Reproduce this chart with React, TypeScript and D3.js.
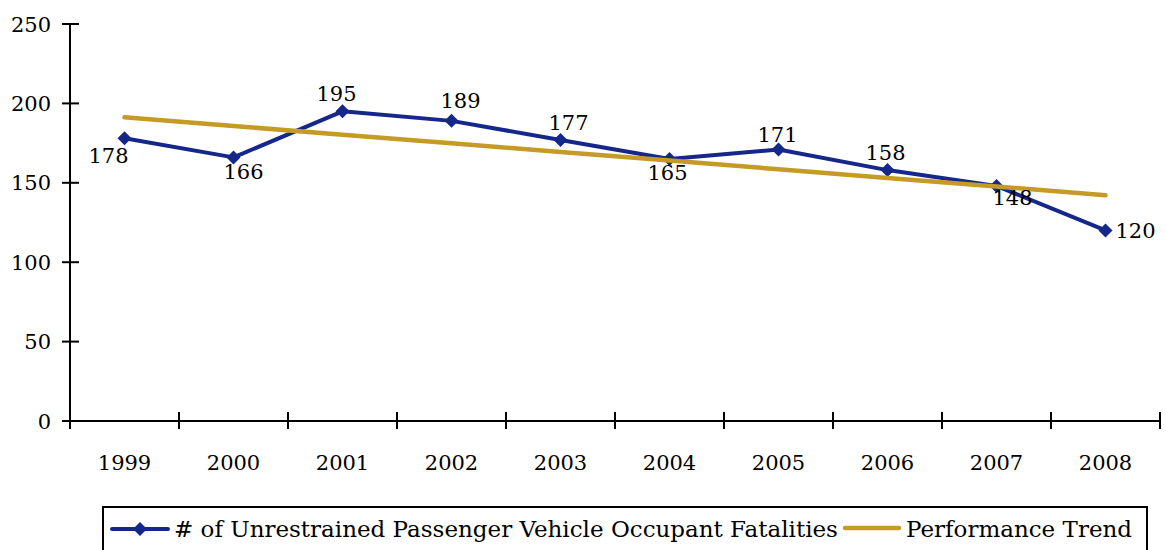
import * as d3 from 'd3';
import React from 'react';

const years = ['1999', '2000', '2001', '2002', '2003', '2004', '2005', '2006', '2007', '2008'];
const fatalities = [178, 166, 195, 189, 177, 165, 171, 158, 148, 120];
const yTicks = [0, 50, 100, 150, 200, 250];
// where each value label sits relative to its marker (dx, dy in px)
const labelOffsets: [number, number][] = [
  [-16, 17], [10, 14], [-6, -18], [9, -20], [8, -17], [-2, 13], [-1, -15], [-2, -18], [16, 11], [30, 0],
];
const seriesName = '# of Unrestrained Passenger Vehicle Occupant Fatalities';
const trendName = 'Performance Trend';

const FONT = "'DejaVu Serif', serif";
const FS = 21;
const LEGEND_FS = 23;
const BLUE = '#16278a';
const GOLD = '#c59b26';

export default function App() {
  const width = 1166;
  const height = 550;
  const left = 70, right = 1160, top = 24, bottom = 421;

  const x = d3.scaleBand<string>().domain(years).range([left, right]);
  const y = d3.scaleLinear().domain([0, 250]).range([bottom, top]);
  const cx = (i: number) => (x(years[i]) ?? 0) + x.bandwidth() / 2;

  // least-squares trend, like the spreadsheet's linear trendline
  const idx = fatalities.map((_, i) => i);
  const mx = d3.mean(idx)!, my = d3.mean(fatalities)!;
  const slope = d3.sum(idx, i => (i - mx) * (fatalities[i] - my)) / d3.sum(idx, i => (i - mx) ** 2);
  const trend = idx.map(i => my + slope * (i - mx));

  const line = d3.line<number>().x((_, i) => cx(i)).y(d => y(d));
  const diamond = (px: number, py: number, r = 7) =>
    `M${px},${py - r}L${px + r},${py}L${px},${py + r}L${px - r},${py}Z`;

  const tickXs = d3.range(years.length + 1).map(i => left + i * x.step());

  return (
    <svg width={width} height={height} style={{ position: 'absolute', left: 0, top: 0, background: '#fff', fontFamily: FONT }}>
      {/* y axis */}
      <line x1={left} x2={left} y1={top} y2={bottom + 8} stroke="#000" strokeWidth={2} />
      {yTicks.map(t => (
        <g key={t}>
          <line x1={left - 8} x2={left + 9} y1={y(t)} y2={y(t)} stroke="#000" strokeWidth={2} />
          <text x={left - 19} y={y(t)} dy="0.36em" textAnchor="end" fontSize={FS}>{t}</text>
        </g>
      ))}
      {/* x axis */}
      <line x1={left} x2={right} y1={bottom} y2={bottom} stroke="#000" strokeWidth={2} />
      {tickXs.map((tx, i) => (
        <line key={i} x1={tx} x2={tx} y1={bottom - 9} y2={bottom + 8} stroke="#000" strokeWidth={2} />
      ))}
      {years.map((yr, i) => (
        <text key={yr} x={cx(i)} y={462} dy="0.36em" textAnchor="middle" fontSize={FS}>{yr}</text>
      ))}

      {/* series */}
      <path d={line(fatalities) ?? ''} fill="none" stroke={BLUE} strokeWidth={4} strokeLinejoin="round" />
      {fatalities.map((v, i) => (
        <path key={i} d={diamond(cx(i), y(v))} fill={BLUE} />
      ))}
      <path d={line(trend) ?? ''} fill="none" stroke={GOLD} strokeWidth={4.5} strokeLinecap="round" />
      {fatalities.map((v, i) => (
        <text key={'l' + i} x={cx(i) + labelOffsets[i][0]} y={y(v) + labelOffsets[i][1]} dy="0.36em"
          textAnchor="middle" fontSize={FS}>{v}</text>
      ))}

      {/* legend */}
      <rect x={103} y={507} width={1044} height={60} fill="none" stroke="#000" strokeWidth={2} />
      <line x1={112} x2={168} y1={529} y2={529} stroke={BLUE} strokeWidth={4} strokeLinecap="round" />
      <path d={diamond(140, 529)} fill={BLUE} />
      <text x={174} y={529} dy="0.36em" fontSize={LEGEND_FS}>{seriesName}</text>
      <line x1={845} x2={899} y1={528} y2={528} stroke={GOLD} strokeWidth={4.5} strokeLinecap="round" />
      <text x={906} y={529} dy="0.36em" fontSize={LEGEND_FS}>{trendName}</text>
    </svg>
  );
}
